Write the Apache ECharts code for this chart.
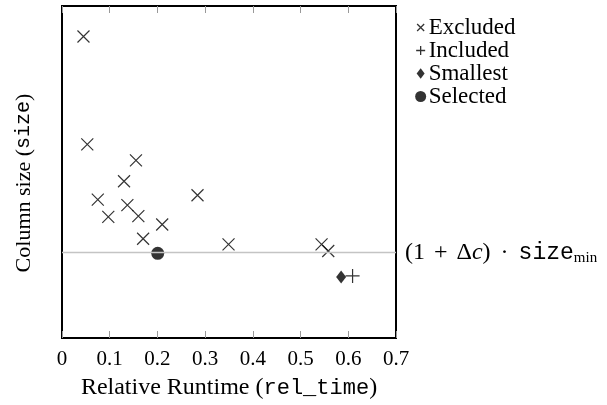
<!DOCTYPE html>
<html><head><meta charset="utf-8">
<script src="https://cdn.jsdelivr.net/npm/echarts@6/dist/echarts.min.js"></script>
<style>html,body{margin:0;padding:0;background:#fff}#c{width:607px;height:405px}</style>
</head><body><div id="c"></div>
<script>
const xTicks = [0, 0.1, 0.2, 0.3, 0.4, 0.5, 0.6, 0.7];
const excludedX = [0.045, 0.053, 0.155, 0.130, 0.075, 0.137, 0.284, 0.097, 0.160, 0.210, 0.170, 0.349, 0.544, 0.558];
const excludedY = [90.8, 58.3, 53.5, 47.2, 41.7, 40.0, 43.0, 36.5, 36.7, 34.2, 29.9, 28.2, 28.2, 26.2];
const includedX = [0.609];
const includedY = [18.7];
const smallestX = [0.585];
const smallestY = [18.4];
const selectedX = [0.2006];
const selectedY = [25.5];
const thresholdY = 25.7;

const serif = '"Liberation Serif", "Times New Roman", serif';
const mono = '"Liberation Mono", "DejaVu Sans Mono", monospace';
const zip = (a, b) => a.map((v, i) => [v, b[i]]);
const crossPath = 'path://M0 0 L10 10 M10 0 L0 10';
const plusPath = 'path://M5 0 L5 10 M0 5 L10 5';
const crossIcon = 'path://M0 0 M14 14 M3.5 3.5 L10.5 10.5 M10.5 3.5 L3.5 10.5';
const plusIcon = 'path://M0 0 M14 14 M7 2.5 L7 11.5 M2.5 7 L11.5 7';
const diamondIcon = 'path://M0 0 M14 14 M7 1.8 L11 7 L7 12.2 L3 7 Z';
const circleIcon = 'path://M0 0 M14 14 M12.5 7 A5.5 5.5 0 1 1 1.5 7 A5.5 5.5 0 1 1 12.5 7 Z';

const chart = echarts.init(document.getElementById('c'), null, {renderer: 'canvas'});
chart.setOption({
  animation: false,
  grid: {left: 62, right: 211, top: 6, bottom: 66, show: true, borderColor: '#000', borderWidth: 2, backgroundColor: 'transparent'},
  legend: {
    orient: 'vertical', left: 408, top: 11, itemGap: 0, itemWidth: 14, itemHeight: 14,
    textStyle: {fontFamily: serif, fontSize: 23, lineHeight: 23, color: '#000', padding: [0, 0, 0, -4]},
    data: [
      {name: 'Excluded', icon: crossIcon, itemStyle: {color: 'transparent', borderColor: '#000', borderWidth: 1.3}},
      {name: 'Included', icon: plusIcon, itemStyle: {color: 'transparent', borderColor: '#000', borderWidth: 1.3}},
      {name: 'Smallest', icon: diamondIcon, itemStyle: {color: '#000', borderWidth: 0}},
      {name: 'Selected', icon: circleIcon, itemStyle: {color: '#000', borderWidth: 0}}
    ]
  },
  xAxis: [{
    type: 'value', min: 0, max: 0.7, interval: 0.1, position: 'bottom',
    axisLine: {show: false}, splitLine: {show: false},
    axisTick: {show: true, inside: true, length: 7, lineStyle: {color: '#999', width: 1}},
    axisLabel: {fontFamily: serif, fontSize: 21, color: '#000', margin: 11,
      formatter: v => { const t = xTicks.find(x => Math.abs(x - v) < 1e-9); return t === 0 ? '0' : String(t); }},
    name: '{a|Relative Runtime (}{m|rel_time}{a|)}', nameLocation: 'middle', nameGap: 38,
    nameTextStyle: {rich: {a: {fontFamily: serif, fontSize: 24, color: '#000'}, m: {fontFamily: mono, fontSize: 22, color: '#000'}}}
  }, {
    type: 'value', min: 0, max: 0.7, interval: 0.1, position: 'top',
    axisLine: {show: false}, splitLine: {show: false}, axisLabel: {show: false},
    axisTick: {show: true, inside: true, length: 7, lineStyle: {color: '#999', width: 1}}
  }],
  yAxis: {
    type: 'value', min: 0, max: 100,
    axisLine: {show: false}, axisTick: {show: false}, axisLabel: {show: false}, splitLine: {show: false},
    name: '{a|Column size (}{m|size}{a|)}', nameLocation: 'middle', nameGap: 27, nameRotate: 90,
    nameTextStyle: {padding: [0, 22, 0, 0], rich: {a: {fontFamily: serif, fontSize: 22, color: '#000'}, m: {fontFamily: mono, fontSize: 20, color: '#000'}}}
  },
  series: [
    {name: 'Excluded', type: 'scatter', data: zip(excludedX, excludedY), symbol: crossPath, symbolSize: 12,
      itemStyle: {color: 'transparent', borderColor: '#000', borderWidth: 1.2}, z: 3,
      markLine: {silent: true, symbol: 'none', animation: false,
        lineStyle: {color: '#c4c4c4', width: 1.3, type: 'solid'},
        label: {show: true, position: 'end', distance: 9,
          formatter: '{a|(1}{p|+}{a|Δ}{i|c}{a|)}{d|·}{m|size}{s|min}',
          rich: {a: {fontFamily: serif, fontSize: 24, color: '#000'},
            p: {fontFamily: serif, fontSize: 24, color: '#000', padding: [0, 9, 0, 9]},
            d: {fontFamily: serif, fontSize: 24, color: '#000', padding: [0, 10, 0, 10]},
            i: {fontFamily: serif, fontStyle: 'italic', fontSize: 24, color: '#000'},
            m: {fontFamily: mono, fontSize: 23, color: '#000'},
            s: {fontFamily: serif, fontSize: 15, color: '#000', padding: [10, 0, 0, 0]}}},
        data: [{yAxis: thresholdY}]}},
    {name: 'Included', type: 'scatter', data: zip(includedX, includedY), symbol: plusPath, symbolSize: 14,
      itemStyle: {color: 'transparent', borderColor: '#000', borderWidth: 1.2}, z: 3},
    {name: 'Smallest', type: 'scatter', data: zip(smallestX, smallestY), symbol: 'diamond', symbolSize: [10, 13],
      itemStyle: {color: '#000'}, z: 4},
    {name: 'Selected', type: 'scatter', data: zip(selectedX, selectedY), symbol: 'circle', symbolSize: 13,
      itemStyle: {color: '#000'}, z: 4}
  ]
});
</script></body></html>
